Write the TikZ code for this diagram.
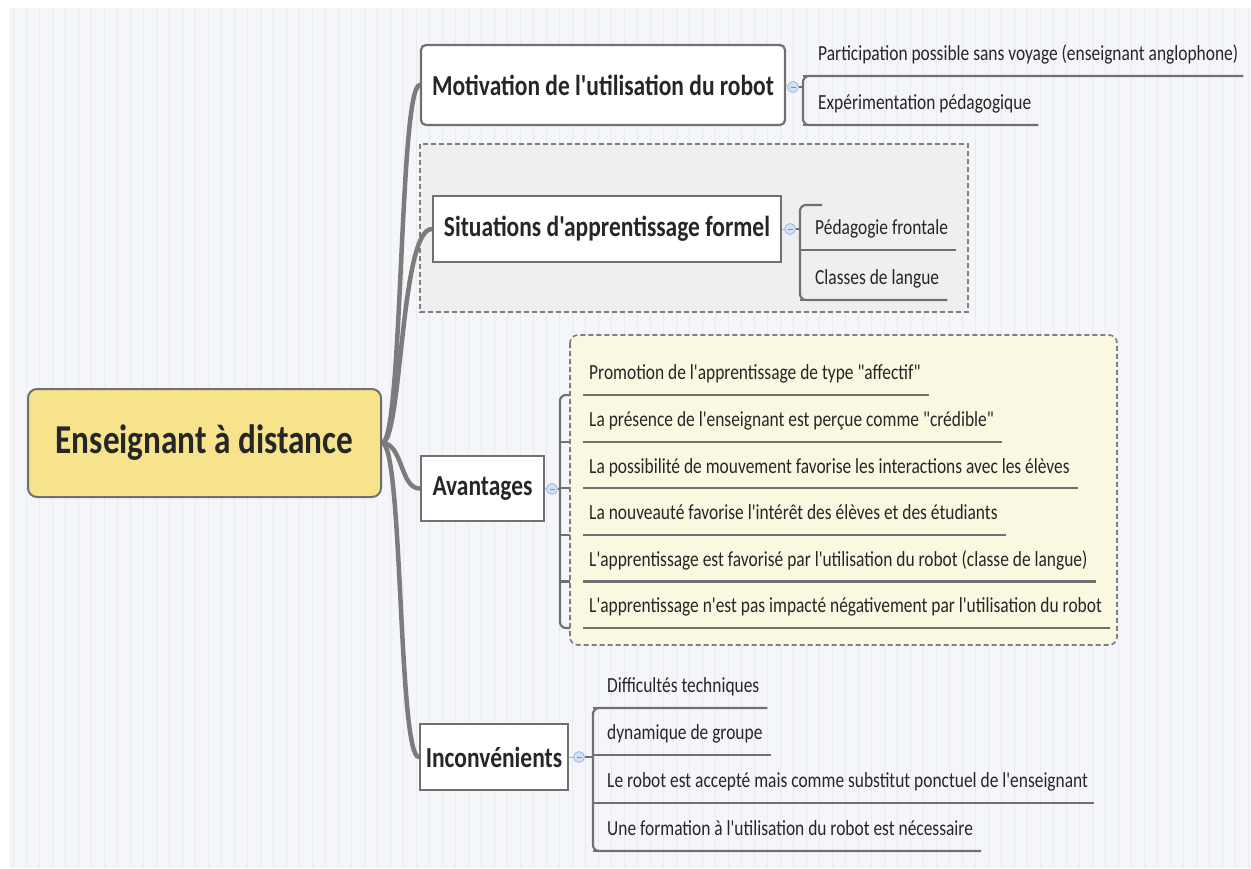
\documentclass[tikz,border=0pt]{standalone}
\usepackage{fontspec}
\setmainfont{Carlito}[Ligatures=TeXOff, FakeStretch=0.81]
\definecolor{bgc}{HTML}{F4F6F9}
\definecolor{gridc}{HTML}{E8ECF1}
\definecolor{linec}{HTML}{7C7C7C}
\definecolor{boxc}{HTML}{707070}
\definecolor{centralfill}{HTML}{F6E38C}
\definecolor{grayzone}{HTML}{EFEFEF}
\definecolor{yellowzone}{HTML}{FBF8E1}
\definecolor{handlefill}{HTML}{D3E1F5}
\definecolor{handledraw}{HTML}{9FB7DD}
\definecolor{txt}{HTML}{262626}
\pgfdeclarelayer{bg}
\pgfdeclarelayer{gzone}
\pgfdeclarelayer{conn}
\pgfdeclarelayer{yzone}
\pgfsetlayers{bg,gzone,conn,yzone,main}
\tikzset{
  central/.style={draw=boxc, line width=2pt, fill=centralfill, rounded corners=9pt,
    minimum width=353pt, minimum height=108pt, inner sep=0pt,
    font=\fontsize{41}{45}\selectfont\bfseries, text=txt},
  branch/.style={draw=boxc, line width=2.2pt, fill=white, inner sep=0pt,
    font=\fontsize{29}{32}\selectfont\bfseries, text=txt},
  item/.style={anchor=south west, inner xsep=0pt, inner ysep=10pt,
    text height=15pt, text depth=5pt, font=\fontsize{21.5}{25}\selectfont, text=txt},
  trunk/.style={draw=linec, line width=4.5pt, line cap=round},
  conn/.style={draw=boxc, line width=2.2pt, rounded corners=6pt},
  uline/.style={draw=boxc, line width=2.2pt},
  hline/.style={draw=handledraw, line width=1pt},
  handle/.style={circle, draw=handledraw, fill=handlefill, minimum size=11pt, inner sep=0pt,
    line width=0.8pt, path picture={\draw[handledraw!80!black, line width=0.8pt]
      ([xshift=-2.5pt]path picture bounding box.center) -- ([xshift=2.5pt]path picture bounding box.center);}},
  zone/.style={draw=boxc!90, line width=1.6pt, dash pattern=on 5pt off 3pt},
}
\begin{document}
\begin{tikzpicture}[x=1pt,y=-1pt]
\useasboundingbox (0,0) rectangle (1251,868);
\begin{pgfonlayer}{bg}
  \fill[bgc] (9,8) rectangle (1251,868);
  \draw[gridc, line width=0.6pt] (9,8) grid[step=13] (1251,868);
\end{pgfonlayer}
\begin{pgfonlayer}{gzone}
  \draw[zone, fill=grayzone] (420,144) rectangle (968,312);
\end{pgfonlayer}
\begin{pgfonlayer}{yzone}
  \draw[zone, fill=yellowzone, rounded corners=8pt] (570,335) rectangle (1117,645);
\end{pgfonlayer}

% central and branches
\node[central] (root) at (204.5,443) {Enseignant à distance};
\node[branch, minimum width=364pt, minimum height=80pt, rounded corners=5pt] (mot) at (603,85) {Motivation de l'utilisation du robot};
\node[branch, minimum width=348pt, minimum height=66pt] (sit) at (607,229) {Situations d'apprentissage formel};
\node[branch, minimum width=123pt, minimum height=65pt] (ava) at (482.5,488.5) {Avantages};
\node[branch, minimum width=148pt, minimum height=66pt] (inc) at (494,757) {Inconvénients};

% handles
\node[handle] (hm) at (793,87) {};
\node[handle] (hs) at (790,229) {};
\node[handle] (ha) at (552,489) {};
\node[handle] (hi) at (579,757) {};

% Motivation items
\node[item] (m1) at (803,76) {\hspace*{15pt}Participation possible sans voyage (enseignant anglophone)\hspace*{5pt}};
\node[item] (m2) at (803,125) {\hspace*{15pt}Expérimentation pédagogique\hspace*{7pt}};
% Situations items
\coordinate (stop) at (822,205);
\node[item] (s1) at (800,250) {\hspace*{15pt}Pédagogie frontale\hspace*{8pt}};
\node[item] (s2) at (800,300) {\hspace*{15pt}Classes de langue\hspace*{8pt}};
% Avantages items
\coordinate (ab) at (560,489);
\node[item] (a1) at (583,395) {\hspace*{6pt}Promotion de l'apprentissage de type "affectif"\hspace*{8pt}};
\node[item] (a2) at (583,441.6) {\hspace*{6pt}La présence de l'enseignant est perçue comme "crédible"\hspace*{8pt}};
\node[item] (a3) at (583,488.2) {\hspace*{6pt}La possibilité de mouvement favorise les interactions avec les élèves\hspace*{8pt}};
\node[item] (a4) at (583,534.8) {\hspace*{6pt}La nouveauté favorise l'intérêt des élèves et des étudiants\hspace*{8pt}};
\node[item] (a5) at (583,581.4) {\hspace*{6pt}L'apprentissage est favorisé par l'utilisation du robot (classe de langue)\hspace*{8pt}};
\node[item] (a6) at (583,628) {\hspace*{6pt}L'apprentissage n'est pas impacté négativement par l'utilisation du robot\hspace*{8pt}};
% Inconvenients items
\node[item] (i1) at (593,708) {\hspace*{14pt}Difficultés techniques\hspace*{8pt}};
\node[item] (i2) at (593,755) {\hspace*{14pt}dynamique de groupe\hspace*{8pt}};
\node[item] (i3) at (593,803) {\hspace*{14pt}Le robot est accepté mais comme substitut ponctuel de l'enseignant\hspace*{6pt}};
\node[item] (i4) at (593,851) {\hspace*{14pt}Une formation à l'utilisation du robot est nécessaire\hspace*{8pt}};

% underlines (visible above zones)
\foreach \n in {m1,m2,s1,s2,a1,a2,a3,a4,a5,a6,i1,i2,i3,i4}
  \draw[uline] (\n.south west) -- (\n.south east);

\begin{pgfonlayer}{conn}
  % trunk
  \draw[trunk] (root.east) .. controls (403,443) and (399,85) .. (mot.west);
  \draw[trunk] (root.east) .. controls (402,443) and (400,229) .. (sit.west);
  \draw[trunk] (root.east) .. controls (403,443) and (400,489) .. (ava.west);
  \draw[trunk] (root.east) .. controls (403,443) and (398,757) .. (inc.west);
  % handle links
  \draw[hline] (mot.east) -- (hm);
  \draw[hline] (sit.east) -- (hs);
  \draw[hline] (ava.east) -- (ha);
  \draw[hline] (inc.east) -- (hi);
  % Motivation bracket
  \draw[conn] (m1.south east) -- (m1.south west) -- (m2.south west) -- (m2.south east);
  \draw[uline] (hm.east) -- (hm -| m1.south west);
  % Situations bracket
  \draw[conn] (stop) -- (stop -| s1.south west) -- (s2.south west) -- (s2.south east);
  \draw[uline] (hs.east) -- (hs -| s1.south west);
  % Avantages bracket
  \draw[conn] (a1.south west) -- (ab |- a1.south west) -- (ab |- a6.south west) -- (a6.south west);
  \foreach \n in {a2,a3,a4,a5}
    \draw[uline] (ab |- \n.south west) -- (\n.south west);
  \draw[uline] (ha.east) -- (ab);
  % Inconvenients bracket
  \draw[conn] (i1.south east) -- (i1.south west) -- (i4.south west) -- (i4.south east);
  \draw[uline] (hi.east) -- (hi -| i1.south west);
\end{pgfonlayer}
\end{tikzpicture}
\end{document}
